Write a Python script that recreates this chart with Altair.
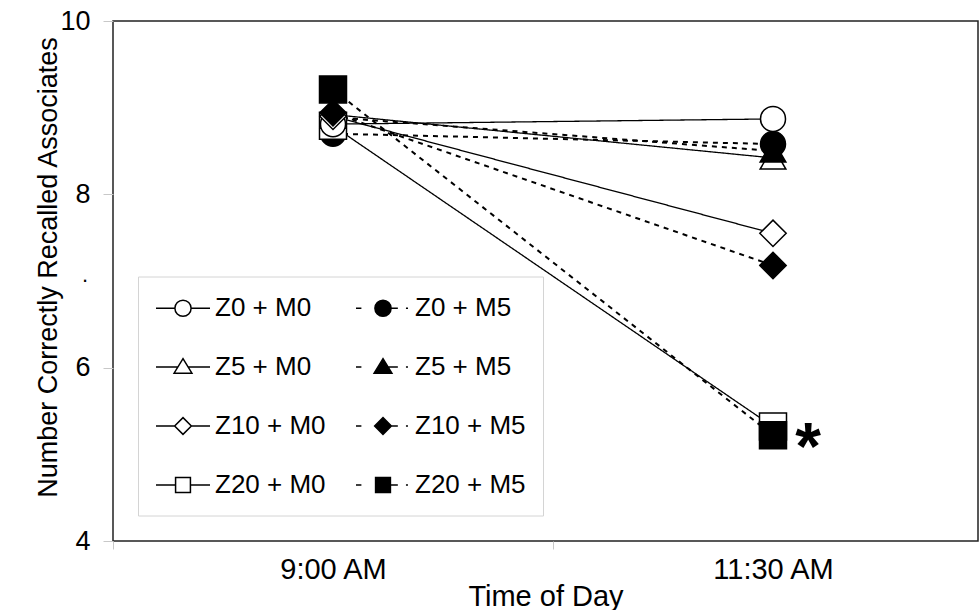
import altair as alt
import pandas as pd

# ---- data ----
groups = ["Z0 + M0", "Z0 + M5", "Z5 + M0", "Z5 + M5",
          "Z10 + M0", "Z10 + M5", "Z20 + M0", "Z20 + M5"]
zinc = ["Z0", "Z0", "Z5", "Z5", "Z10", "Z10", "Z20", "Z20"]
mel = ["M0", "M5", "M0", "M5", "M0", "M5", "M0", "M5"]
times = ["9:00 AM", "11:30 AM"]
time_pos = [0.5, 1.5]
recall_0900 = [8.81, 8.70, 8.92, 8.89, 8.90, 8.94, 8.79, 9.21]
recall_1130 = [8.87, 8.58, 8.42, 8.50, 7.55, 7.18, 5.32, 5.22]
draw_rank = [5, 2, 1, 4, 6, 7, 3, 8]

FONT = "Liberation Sans"

rows = []
for i, g in enumerate(groups):
    for t, xp, v in zip(times, time_pos, [recall_0900[i], recall_1130[i]]):
        rows.append({"group": g, "z": zinc[i], "m": mel[i], "time": t,
                     "tpos": xp, "recall": v, "rank": draw_rank[i]})
df = pd.DataFrame(rows).sort_values(["rank", "tpos"]).reset_index(drop=True)

W, H = 865, 520
TOP = 21
XMAX = W / 440.0

x_enc = alt.X("tpos:Q",
              scale=alt.Scale(domain=[0, XMAX], nice=False, zero=False),
              axis=alt.Axis(values=[0, 0.5, 1, 1.5],
                            labelExpr="datum.value == 0.5 ? '9:00 AM' : (datum.value == 1.5 ? '11:30 AM' : '')",
                            tickOpacity={"condition": {"test": "datum.value % 1 == 0", "value": 1}, "value": 0},
                            tickSize=8, tickColor="#c8c8c8", domain=False, grid=False,
                            labelFontSize=29, labelFont=FONT, labelColor="black",
                            labelBaseline="alphabetic", labelPadding=29,
                            title="Time of Day", titleFontSize=29,
                            titleFont=FONT, titleFontWeight="normal", titleColor="black",
                            titleBaseline="alphabetic", titleY=64))
y_enc = alt.Y("recall:Q",
              scale=alt.Scale(domain=[4, 10], nice=False, zero=False),
              axis=alt.Axis(values=[4, 6, 8, 10], tickSize=10, tickColor="#c8c8c8",
                            domain=False, grid=False, labelFontSize=27, labelFont=FONT,
                            labelColor="black", labelPadding=13,
                            title="Number Correctly Recalled Associates",
                            titleFontSize=27, titleFont=FONT, titleFontWeight="normal",
                            titleColor="black", titleBaseline="alphabetic",
                            titleX=-57, titleY=246, titleAngle=270))

lines = alt.Chart(df).mark_line(color="black").encode(
    x=x_enc, y=y_enc, detail="group:N",
    strokeDash=alt.StrokeDash("m:N", scale=alt.Scale(domain=["M0", "M5"], range=[[1, 0], [5, 5]]),
                              legend=None),
    strokeWidth=alt.StrokeWidth("m:N", scale=alt.Scale(domain=["M0", "M5"], range=[1.3, 2.0]),
                                legend=None),
)

points = alt.Chart(df).mark_point(opacity=1, stroke="black", strokeWidth=1.5).encode(
    x=x_enc, y=y_enc,
    shape=alt.Shape("z:N", scale=alt.Scale(domain=["Z0", "Z5", "Z10", "Z20"],
                                           range=["circle", "triangle-up", "diamond", "square"]),
                    legend=None),
    size=alt.Size("z:N", scale=alt.Scale(domain=["Z0", "Z5", "Z10", "Z20"],
                                         range=[625, 729, 729, 576]), legend=None),
    fill=alt.Fill("m:N", scale=alt.Scale(domain=["M0", "M5"], range=["white", "black"]),
                  legend=None),
)

# legend symbols: line + marker (solid for M0, dashed for M5)
circ = "M1.6,0A0.6,0.6 0 1,1 0.4,0A0.6,0.6 0 1,1 1.6,0Z"
tri = "M1,-0.62L1.66,0.46L0.34,0.46Z"
dia = "M1,-0.62L1.62,0L1,0.62L0.38,0Z"
sq = "M0.45,-0.55L1.55,-0.55L1.55,0.55L0.45,0.55Z"
solid = lambda a, b: "M-1,0L%.2f,0M%.2f,0L3,0" % (a, b)
dashed = lambda a, b: "M-1,0L-0.6,0M%.2f,0L2.1,0M2.7,0L2.85,0" % b
legend_paths = [
    solid(0.4, 1.6) + circ, dashed(0.4, 1.6) + circ,
    solid(0.62, 1.38) + tri, dashed(0.62, 1.38) + tri,
    solid(0.38, 1.62) + dia, dashed(0.38, 1.62) + dia,
    solid(0.45, 1.55) + sq, dashed(0.45, 1.55) + sq,
]
legend_fills = ["white", "black"] * 4
legend_strokes = ["black"] * 8

leg = alt.Legend(title=None, orient="none", legendX=25, legendY=255.5, columns=2,
                 direction="horizontal",
                 symbolSize=729, symbolStrokeWidth=1.5,
                 labelOffset=31, rowPadding=31, columnPadding=27, padding=17,
                 strokeColor="#d4d4d4", fillColor="white", labelFontSize=26,
                 labelFont=FONT, labelColor="black", labelLimit=0)

legend_layer = alt.Chart(df).transform_filter("datum.time == 'none'").mark_point(
    opacity=1, strokeWidth=1.5).encode(
    x=x_enc, y=y_enc,
    shape=alt.Shape("group:N", scale=alt.Scale(domain=groups, range=legend_paths), legend=leg),
    fill=alt.Fill("group:N", scale=alt.Scale(domain=groups, range=legend_fills), legend=leg),
    stroke=alt.Stroke("group:N", scale=alt.Scale(domain=groups, range=legend_strokes), legend=leg),
)

star = alt.Chart(df).transform_filter(
    "datum.group == 'Z20 + M5' && datum.time == '11:30 AM'").mark_text(
    text="*", fontSize=66, fontWeight="bold", font=FONT, color="black",
    align="center", baseline="alphabetic", dx=35, dy=34).encode(x=x_enc, y=y_enc)

# stray dot left of the y axis in the reference
dot_df = pd.DataFrame({"tpos": [0.0], "recall": [7.02]})
dot = alt.Chart(dot_df).mark_text(text=".", fontSize=22, font=FONT, color="black",
                                  align="center", baseline="alphabetic", dx=-28, dy=3).encode(
    x=x_enc, y=y_enc)

chart = alt.layer(lines, points, legend_layer, star, dot).resolve_scale(
    shape="independent", fill="independent", size="independent", stroke="independent",
    strokeWidth="independent", strokeDash="independent"
).properties(
    width=W, height=H,
    padding={"left": 113, "top": TOP, "right": 1, "bottom": 610 - TOP - H},
    autosize="none",
    background="white",
).configure_view(stroke="#222222", strokeWidth=1.5)

chart.save("out.html", embed_options={"renderer": "svg", "actions": False})
